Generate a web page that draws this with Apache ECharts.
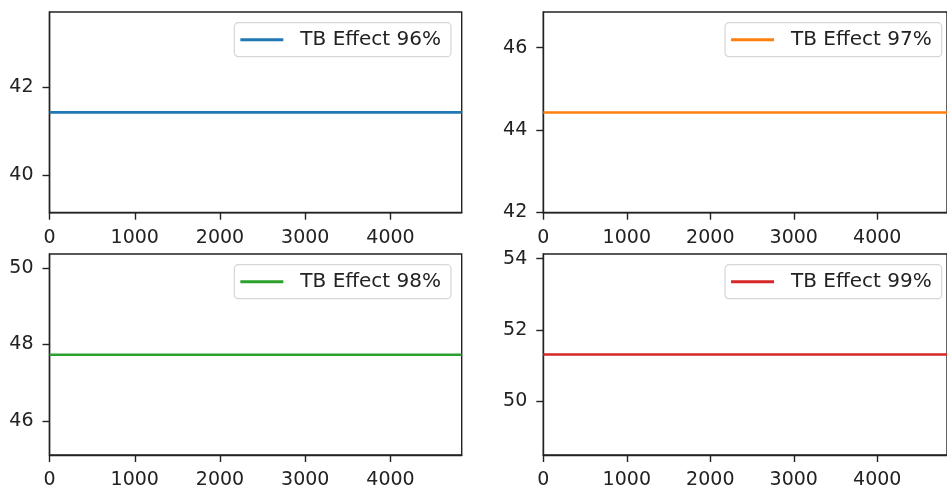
<!DOCTYPE html>
<html>
<head>
<meta charset="utf-8">
<script src="https://cdn.jsdelivr.net/npm/echarts@6/dist/echarts.min.js"></script>
<style>html,body{margin:0;padding:0;background:#fff}#c{width:947px;height:491px}</style>
</head>
<body>
<div id="c"></div>
<script>
// ---- data ----
const names = ['TB Effect 96%', 'TB Effect 97%', 'TB Effect 98%', 'TB Effect 99%'];
const colors = ['#1f77b4', '#ff7f0e', '#2ca02c', '#d62728'];
const xs = [0, 4835];
const s96 = [41.43, 41.43];
const s97 = [44.42, 44.42];
const s98 = [47.73, 47.73];
const s99 = [51.31, 51.31];
const seriesValues = [s96, s97, s98, s99];
const yRanges = [[39.15, 43.71], [41.98, 46.87], [45.11, 50.36], [48.49, 54.13]];
const yTicks = [[40, 42], [42, 44, 46], [46, 48, 50], [50, 52, 54]];
const xTicks = [0, 1000, 2000, 3000, 4000];
const xRange = [0, 4835];

// ---- layout ----
const grids = [
  {left: 49.5, top: 12, width: 412.2, height: 200.7},
  {left: 543.3, top: 12, width: 412.2, height: 200.7},
  {left: 49.5, top: 254, width: 412.2, height: 201},
  {left: 543.3, top: 254, width: 412.2, height: 201}
];
const legendRight = [947 - 451, 947 - 941.7, 947 - 451, 947 - 941.7];
const legendTop = [22.7, 22.7, 264.7, 264.7];

const font = 'DejaVu Sans';
const axisCol = '#222';
const option = {
  animation: false,
  backgroundColor: '#fff',
  grid: grids.map(g => Object.assign({show: true, borderColor: axisCol, borderWidth: 1.4, backgroundColor: 'transparent', containLabel: false}, g)),
  xAxis: grids.map((g, i) => ({
    type: 'value', gridIndex: i, min: xRange[0], max: xRange[1],
    axisLine: {show: true, lineStyle: {color: axisCol, width: 1.4}},
    splitLine: {show: false},
    axisTick: {show: true, inside: false, length: 7, lineStyle: {color: axisCol, width: 1.4}, customValues: xTicks},
    axisLabel: {show: true, margin: 16, color: axisCol, fontFamily: font, fontSize: 19, customValues: xTicks, formatter: v => String(v)}
  })),
  yAxis: grids.map((g, i) => ({
    type: 'value', gridIndex: i, min: yRanges[i][0], max: yRanges[i][1],
    axisLine: {show: true, lineStyle: {color: axisCol, width: 1.4}},
    splitLine: {show: false},
    axisTick: {show: true, inside: false, length: 7, lineStyle: {color: axisCol, width: 1.4}, customValues: yTicks[i]},
    axisLabel: {show: true, margin: 16, color: axisCol, fontFamily: font, fontSize: 19, customValues: yTicks[i], formatter: v => String(v)}
  })),
  legend: names.map((n, i) => ({
    data: [n],
    right: legendRight[i], top: legendTop[i],
    orient: 'vertical',
    backgroundColor: 'rgba(255,255,255,0.8)',
    borderColor: '#d6d6d6', borderWidth: 1.2, borderRadius: 4,
    padding: [7, 10, 7, 6],
    icon: 'rect', itemWidth: 43, itemHeight: 3,
    textStyle: {fontFamily: font, fontSize: 20, color: axisCol, padding: [0, 0, 0, 12]}
  })),
  series: names.map((n, i) => ({
    name: n, type: 'line', xAxisIndex: i, yAxisIndex: i,
    data: xs.map((x, k) => [x, seriesValues[i][k]]),
    showSymbol: false, symbol: 'none',
    lineStyle: {color: colors[i], width: 2.6},
    itemStyle: {color: colors[i]}
  }))
};
const chart = echarts.init(document.getElementById('c'), null, {renderer: 'canvas'});
chart.setOption(option);
</script>
</body>
</html>
